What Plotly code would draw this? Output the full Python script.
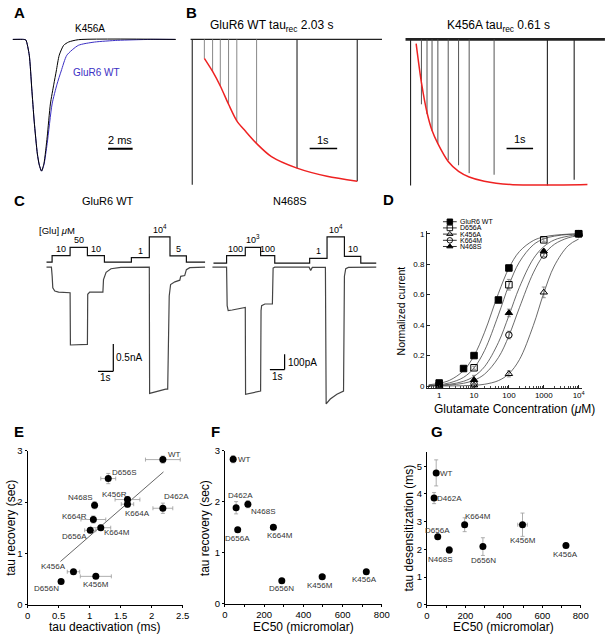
import math
import plotly.graph_objects as go

W, H = 614, 639
FONT = "Liberation Sans, Arial, Helvetica, sans-serif"

# ======================= DATA =======================
# --- Panel A: normalized deactivation traces (time in ms, normalized current)
a_rise_t = [0, 0.88, 1.06, 1.34, 1.54, 1.74, 2.0, 2.16, 2.34]
a_rise_i = [0, 0, -0.004, -0.12, -0.37, -0.62, -0.87, -0.955, -1.0]
a_k456a_decay_t = [2.54, 2.8, 3.06, 3.34, 3.54, 3.78, 4.14, 4.54, 5.34, 13.28]
a_k456a_decay_i = [-0.94, -0.74, -0.49, -0.34, -0.24, -0.12, -0.045, -0.02, -0.002, 0]
a_wt_decay_t = [2.54, 2.8, 3.2, 3.6, 3.94, 4.4, 5.34, 6.66, 8.54, 11.2, 13.2]
a_wt_decay_i = [-0.95, -0.79, -0.49, -0.34, -0.24, -0.12, -0.045, -0.02, -0.007, 0, 0]

# --- Panel B: recovery from desensitization (time s, normalized peak)
b_wt_record_t = [-0.06, 6.9]
b_wt_pulse_t = [0, 0.44, 0.74, 1.02, 1.32, 1.62, 2.34, 3.81, 6.0]
b_wt_pulse_amp = [-1.0, -0.13, -0.22, -0.32, -0.446, -0.56, -0.716, -0.885, -0.975]
b_wt_fit_t = [0.44, 0.74, 1.02, 1.32, 1.62, 1.93, 2.34, 2.88, 3.81, 4.9, 6.0]
b_wt_fit_amp = [-0.13, -0.22, -0.32, -0.446, -0.56, -0.63, -0.716, -0.806, -0.885, -0.941, -0.975]
b_k_record_t = [-0.19, 7.33]
b_k_pulse_t = [0, 0.41, 0.62, 0.81, 1.03, 1.42, 1.81, 2.21, 3.15, 5.16, 6.17]
b_k_pulse_amp = [-1.0, -0.444, -0.511, -0.625, -0.713, -0.827, -0.861, -0.915, -0.926, -1.0, -0.96]
b_k_fit_t = [0.21, 0.41, 0.62, 0.81, 1.03, 1.42, 1.81, 2.21, 2.78, 3.77, 5.16, 6.67]
b_k_fit_amp = [-0.029, -0.296, -0.50, -0.623, -0.713, -0.835, -0.903, -0.941, -0.97, -0.993, -0.997, -0.993]

# --- Panel C: concentration jumps
c_wt_stim_t = [0, 0.365, 1.54, 2.67, 3.78, 5.54, 6.71, 8.06, 9.13, 10.35]
c_wt_stim_conc = [0, 10, 50, 10, 0, 1, 10000, 5, 0]
c_wt_stim_level = [0, 1.0, 2.24, 1.0, 0, 0.7, 3.84, 0.96, 0]
c_wt_cur_t = [0, 0.32, 0.37, 0.41, 0.54, 0.79, 1.54, 1.56, 2.67, 2.69, 2.82, 3.68, 3.72,
              3.89, 4.21, 4.85, 6.71, 6.73, 7.78, 7.91, 8.01, 8.10, 8.38, 8.70, 8.76,
              9.02, 9.13, 9.35, 10.35]
c_wt_cur_na = [0, 0, -0.17, -0.38, -0.44, -0.46, -0.47, -1.43, -1.42, -0.50, -0.46, -0.46,
               -0.23, -0.096, -0.03, -0.005, 0, -2.32, -2.24, -2.24, -0.53, -0.32, -0.27,
               -0.24, -0.17, -0.155, -0.047, -0.01, 0]
c_n_stim_t = [0, 0.89, 2.16, 3.2, 4.16, 6.53, 7.71, 8.89, 10.0, 11.05]
c_n_stim_conc = [0, 100, 1000, 100, 0, 1, 10000, 10, 0]
c_n_stim_level = [0, 1.0, 2.08, 1.0, 0, 0.65, 3.47, 0.91, 0]
c_n_cur_t = [-0.07, 0.89, 0.93, 1.0, 1.27, 1.71, 2.16, 2.18, 2.6, 3.2, 3.23, 3.27, 3.49, 4.0,
             4.05, 4.16, 6.49, 6.6, 6.71, 7.6, 7.65, 7.93, 8.38, 8.83, 8.89, 8.98, 9.16, 11.05]
c_n_cur_pa = [0, 0, -250, -282, -278, -268, -261, -824, -817, -803, -282, -250, -239, -239,
              -6, 0, 0, -21, -2, -2, -887, -855, -824, -803, -59, -10, -2, 0]

# --- Panel D: concentration-response
d_wt_conc = [1, 5, 10, 50, 100, 10000]
d_wt_resp = [0.02, 0.115, 0.20, 0.565, 0.775, 1.0]
d_wt_err = [0, 0, 0.01, 0.01, 0.01, 0]
d_d656a_conc = [1, 10, 100, 1000, 10000]
d_d656a_resp = [0.005, 0.12, 0.665, 0.96, 1.0]
d_d656a_err = [0, 0.01, 0.035, 0.01, 0]
d_k456a_conc = [1, 10, 100, 1000, 10000]
d_k456a_resp = [0.0, 0.005, 0.08, 0.615, 1.0]
d_k456a_err = [0, 0, 0.02, 0.035, 0]
d_k664m_conc = [10, 100, 1000, 10000]
d_k664m_resp = [0.015, 0.335, 0.86, 1.0]
d_k664m_err = [0, 0.025, 0.01, 0]
d_n468s_conc = [1, 10, 100, 1000, 10000]
d_n468s_resp = [0.005, 0.04, 0.48, 0.885, 1.0]
d_n468s_err = [0, 0.03, 0.025, 0.01, 0]
d_fit_conc = [0.5, 1, 2, 5, 10, 20, 50, 100, 200, 500, 1000, 2000, 5000, 10000]
d_wt_fit = [0.008, 0.018, 0.038, 0.101, 0.199, 0.353, 0.608, 0.774, 0.883, 0.955, 0.979, 0.990, 0.997, 0.998]
d_d656a_fit = [0.004, 0.009, 0.021, 0.057, 0.119, 0.233, 0.467, 0.662, 0.814, 0.927, 0.966, 0.984, 0.995, 0.998]
d_n468s_fit = [0.0025, 0.0054, 0.0115, 0.031, 0.064, 0.127, 0.286, 0.462, 0.648, 0.835, 0.915, 0.959, 0.984, 0.993]
d_k664m_fit = [0.0015, 0.0031, 0.0066, 0.018, 0.038, 0.078, 0.187, 0.33, 0.514, 0.743, 0.861, 0.930, 0.973, 0.987]
d_k456a_fit = [0.0001, 0.0003, 0.0007, 0.0021, 0.0049, 0.0116, 0.0356, 0.081, 0.173, 0.397, 0.61, 0.788, 0.921, 0.965]
d_tickvals = [1, 10, 100, 1000, 10000]
d_ticktext = ["1", "10", "100", "1000", "10<sup>4</sup>"]

# --- Panel E
e_names = ["WT", "D656S", "N468S", "K456R", "K664A", "D462A", "K664R", "K664M", "D656A", "K456A", "K456M", "D656N"]
e_tau_deact = [2.18, 1.30, 1.08, 1.61, 1.61, 2.18, 1.06, 1.18, 1.01, 0.74, 1.10, 0.54]
e_tau_deact_err = [0.28, 0.12, 0.03, 0.20, 0.10, 0.16, 0.20, 0.16, 0.09, 0.10, 0.25, 0.04]
e_tau_rec = [2.83, 2.46, 1.94, 2.05, 1.96, 1.88, 1.66, 1.50, 1.45, 0.64, 0.55, 0.45]
e_tau_rec_err = [0.07, 0.10, 0.07, 0.06, 0.06, 0.10, 0.07, 0.05, 0.05, 0.04, 0.04, 0.03]
e_fit_x = [0.53, 2.19]
e_fit_y = [0.84, 2.59]

# --- Panel F
f_names = ["WT", "D462A", "N468S", "D656A", "K664M", "D656N", "K456M", "K456A"]
f_ec50 = [42, 57, 117, 65, 247, 290, 496, 721]
f_ec50_err = [0, 0, 12, 0, 12, 10, 15, 0]
f_tau_rec = [2.83, 1.88, 1.95, 1.45, 1.50, 0.45, 0.53, 0.63]
f_tau_rec_err = [0.07, 0.12, 0.07, 0.04, 0.04, 0.03, 0.04, 0.03]

# --- Panel G
g_names = ["WT", "D462A", "K664M", "K456M", "D656A", "N468S", "D656N", "K456A"]
g_ec50 = [48, 37, 196, 497, 56, 116, 291, 723]
g_ec50_err = [0, 0, 12, 25, 0, 12, 10, 0]
g_tau_des = [4.76, 3.85, 2.89, 2.89, 2.46, 1.98, 2.10, 2.14]
g_tau_des_err = [0.47, 0.20, 0.25, 0.42, 0.05, 0.12, 0.32, 0.05]

# ======================= LAYOUT HELPERS =======================
# label offsets (px) for scatter-point names
e_label_shift = [(12, 5), (16, 6), (-15, 8), (-13, 5), (10, -9), (14, 12), (-19, 3), (16, -5),
                 (-16, -6), (-20, 5), (0, -8), (-15, -7)]
f_label_shift = [(11, 0), (4, 12), (15, -7), (0, -8.5), (7, -8), (0, -8), (-2, -8.5), (-2, -7.5)]
g_label_shift = [(10, -1), (15, 0), (13, 8), (0, -16), (0, 6.5), (-9, -10), (1, -14), (0, -8.5)]


def xdom(p0, p1):
    return [p0 / W, p1 / W]


def ydom(top, bot):
    return [1 - bot / H, 1 - top / H]


def xr(p0, p1, origin, scale):
    return [(p0 - origin) / scale, (p1 - origin) / scale]


def yr(top, bot, origin, scale):
    return [(origin - bot) / scale, (origin - top) / scale]


def px(x):
    return x / W


def py(y):
    return 1 - y / H


hidden = dict(visible=False, showgrid=False, zeroline=False, fixedrange=True)

fig = go.Figure()
annotations = []
shapes = []


def ann(text, x, y, xref="paper", yref="paper", size=10, color="black", xanchor="center",
        yanchor="middle", xshift=0, yshift=0, textangle=0):
    annotations.append(dict(text=text, x=x, y=y, xref=xref, yref=yref, showarrow=False,
                            font=dict(size=size, color=color, family=FONT), xanchor=xanchor,
                            yanchor=yanchor, xshift=xshift, yshift=yshift, textangle=textangle))


def seg(x0, y0, x1, y1, xref, yref, width=1.5, color="black"):
    shapes.append(dict(type="line", x0=x0, y0=y0, x1=x1, y1=y1, xref=xref, yref=yref,
                       line=dict(color=color, width=width)))


# ======================= PANEL A =======================
fig.add_trace(go.Scatter(x=a_rise_t + a_wt_decay_t, y=a_rise_i + a_wt_decay_i, mode="lines",
                         line=dict(color="#3b2fc4", width=1, shape="spline", smoothing=0.6),
                         xaxis="x", yaxis="y"))
fig.add_trace(go.Scatter(x=a_rise_t + a_k456a_decay_t, y=a_rise_i + a_k456a_decay_i, mode="lines",
                         line=dict(color="black", width=1, shape="spline", smoothing=0.6),
                         xaxis="x", yaxis="y"))
seg(7.76, -0.83, 9.76, -0.83, "x", "y", width=2)
ann("2 ms", 8.76, -0.83, "x", "y", size=11, yanchor="bottom", yshift=1)
ann("K456A", px(89), py(23), size=10)
ann("GluR6 WT", px(95), py(68), size=10, color="#3b2fc4")


# ======================= PANEL B =======================
def pulses(ts, amps, idx):
    xs, ys = [], []
    for i in idx:
        xs += [ts[i], ts[i], None]
        ys += [0, amps[i], None]
    return xs, ys


for (xa, ya, rec, pt, pa, ft, fa, blk, gray_col, base_w) in [
    ("x2", "y2", b_wt_record_t, b_wt_pulse_t, b_wt_pulse_amp, b_wt_fit_t, b_wt_fit_amp, [0, 7, 8], "#888888", 1.2),
    ("x3", "y3", b_k_record_t, b_k_pulse_t, b_k_pulse_amp, b_k_fit_t, b_k_fit_amp, [0, 9, 10], "#555555", 2.6),
]:
    fig.add_trace(go.Scatter(x=rec, y=[0, 0], mode="lines", line=dict(color="#222", width=base_w),
                             xaxis=xa, yaxis=ya))
    gidx = [i for i in range(len(pt)) if i not in blk]
    gx, gy = pulses(pt, pa, gidx)
    fig.add_trace(go.Scatter(x=gx, y=gy, mode="lines", line=dict(color=gray_col, width=1),
                             xaxis=xa, yaxis=ya))
    bx, by = pulses(pt, pa, blk)
    fig.add_trace(go.Scatter(x=bx, y=by, mode="lines", line=dict(color="#222", width=1.1),
                             xaxis=xa, yaxis=ya))
    fig.add_trace(go.Scatter(x=ft, y=fa, mode="lines",
                             line=dict(color="#ee2222", width=1.5, shape="spline", smoothing=0.8),
                             xaxis=xa, yaxis=ya))

seg(4.27, -0.75, 5.27, -0.75, "x2", "y2", width=1.5)
ann("1s", 4.77, -0.75, "x2", "y2", size=11, yanchor="bottom", yshift=1)
seg(3.62, -0.746, 4.62, -0.746, "x3", "y3", width=1.5)
ann("1s", 4.12, -0.746, "x3", "y3", size=11, yanchor="bottom", yshift=1)
ann("GluR6 WT tau<sub>rec</sub> 2.03 s", px(273), py(20), size=12)
ann("K456A tau<sub>rec</sub> 0.61 s", px(505), py(20), size=12)


# ======================= PANEL C =======================
def conc_label(c):
    if c >= 1000:
        return "10<sup>%d</sup>" % round(math.log10(c))
    return str(c)


for (xa, ys_, yc, st, sc, sl, ct, cv) in [
    ("x4", "y4", "y5", c_wt_stim_t, c_wt_stim_conc, c_wt_stim_level, c_wt_cur_t, c_wt_cur_na),
    ("x5", "y6", "y7", c_n_stim_t, c_n_stim_conc, c_n_stim_level, c_n_cur_t, c_n_cur_pa),
]:
    fig.add_trace(go.Scatter(x=st, y=sl + [sl[-1]], mode="lines",
                             line=dict(color="#111", width=1.2, shape="hv"), xaxis=xa, yaxis=ys_))
    for i, c in enumerate(sc):
        if c > 0:
            ann(conc_label(c), (st[i] + st[i + 1]) / 2, sl[i], xa, ys_, size=9,
                yanchor="bottom", yshift=0)
    fig.add_trace(go.Scatter(x=ct, y=cv, mode="lines", line=dict(color="#444", width=1.2),
                             xaxis=xa, yaxis=yc))

ann("[Glu] <i>μ</i>M", px(55), py(228), size=9.5)
ann("GluR6 WT", px(107), py(198), size=11)
ann("N468S", px(292), py(198), size=11)
# scale bars
seg(4.36, -1.413, 4.36, -1.913, "x4", "y5", width=1.2)
seg(3.36, -1.913, 4.36, -1.913, "x4", "y5", width=1.2)
ann("0.5nA", 4.36, -1.66, "x4", "y5", size=10, xanchor="left", xshift=1)
ann("1s", 3.86, -1.913, "x4", "y5", size=10, yanchor="top", yshift=1)
seg(4.83, -564, 4.83, -664, "x5", "y7", width=1.2)
seg(3.83, -664, 4.83, -664, "x5", "y7", width=1.2)
ann("100pA", 4.83, -620, "x5", "y7", size=10, xanchor="left", xshift=1)
ann("1s", 4.33, -664, "x5", "y7", size=10, yanchor="top", yshift=1)

# ======================= PANEL D =======================
d_series = [
    ("GluR6 WT", d_wt_conc, d_wt_resp, d_wt_err, d_wt_fit, "square"),
    ("D656A", d_d656a_conc, d_d656a_resp, d_d656a_err, d_d656a_fit, "square-open"),
    ("K456A", d_k456a_conc, d_k456a_resp, d_k456a_err, d_k456a_fit, "triangle-up-open"),
    ("K664M", d_k664m_conc, d_k664m_resp, d_k664m_err, d_k664m_fit, "circle-open"),
    ("N468S", d_n468s_conc, d_n468s_resp, d_n468s_err, d_n468s_fit, "triangle-up"),
]
for name, cx, cy, ce, fit, sym in d_series:
    fig.add_trace(go.Scatter(x=d_fit_conc, y=fit, mode="lines",
                             line=dict(color="#444", width=0.8, shape="spline"),
                             xaxis="x6", yaxis="y8", cliponaxis=False))
for name, cx, cy, ce, fit, sym in d_series:
    fig.add_trace(go.Scatter(x=cx, y=cy, mode="markers",
                             marker=dict(symbol=sym, size=6.5, color="black",
                                         line=dict(color="black", width=1)),
                             error_y=dict(type="data", array=ce, color="#777", thickness=0.8, width=2),
                             xaxis="x6", yaxis="y8", cliponaxis=False))
# legend keys (drawn on a pixel overlay)
LEG_X0, LEG_X1, LEG_XM, LEG_Y0, LEG_DY = 448, 462, 455, 219.5, 6.3
for i, (name, cx, cy, ce, fit, sym) in enumerate(d_series):
    yy = LEG_Y0 + i * LEG_DY
    fig.add_trace(go.Scatter(x=[LEG_X0, LEG_X1], y=[yy, yy], mode="lines",
                             line=dict(color="#333", width=1), xaxis="x10", yaxis="y12"))
    fig.add_trace(go.Scatter(x=[LEG_XM], y=[yy], mode="markers",
                             marker=dict(symbol=sym, size=5.5, color="black",
                                         line=dict(color="black", width=0.9)),
                             xaxis="x10", yaxis="y12"))
    ann(name, px(LEG_X1 + 1), py(yy), size=7, xanchor="left")
ann("Normalized current", px(405), py(310), size=10.5, textangle=-90)
ann("Glutamate Concentration (<i>μ</i>M)", px(521), py(410), size=12)


# ======================= PANELS E F G =======================
def scatter_panel(xa, ya, xs, xe, ys, ye, names, shifts):
    fig.add_trace(go.Scatter(x=xs, y=ys, mode="markers",
                             marker=dict(symbol="circle", size=7, color="black"),
                             error_x=dict(type="data", array=xe, color="#999", thickness=0.8, width=2),
                             error_y=dict(type="data", array=ye, color="#999", thickness=0.8, width=2),
                             xaxis=xa, yaxis=ya, cliponaxis=False))
    for n, x, y, (dx, dy) in zip(names, xs, ys, shifts):
        ann(n, x, y, xa, ya, size=8, color="#333", xshift=dx, yshift=dy)


fig.add_trace(go.Scatter(x=e_fit_x, y=e_fit_y, mode="lines", line=dict(color="#555", width=0.9),
                         xaxis="x7", yaxis="y9"))
scatter_panel("x7", "y9", e_tau_deact, e_tau_deact_err, e_tau_rec, e_tau_rec_err, e_names, e_label_shift)
scatter_panel("x8", "y10", f_ec50, f_ec50_err, f_tau_rec, f_tau_rec_err, f_names, f_label_shift)
scatter_panel("x9", "y11", g_ec50, g_ec50_err, g_tau_des, g_tau_des_err, g_names, g_label_shift)

ann("tau recovery (sec)", px(8), py(531), size=12, textangle=-90)
ann("tau deactivation (ms)", px(103), py(632), size=12)
ann("tau recovery (sec)", px(206), py(531), size=12, textangle=-90)
ann("EC50 (micromolar)", px(306), py(632), size=12)
ann("tau desensitization (ms)", px(413), py(531), size=12, textangle=-90)
ann("EC50 (micromolar)", px(510), py(632), size=12)

# panel letters
for letter, lx, ly in [("A", 17, 7), ("B", 192, 7), ("C", 17, 198), ("D", 393, 197),
                       ("E", 16, 433), ("F", 216, 433), ("G", 442, 433)]:
    ann("<b>%s</b>" % letter, px(lx), py(ly), size=15)

# ======================= AXES =======================
sc_axis = dict(showline=True, linecolor="black", linewidth=1, ticks="outside", ticklen=2,
               tickcolor="black", tickfont=dict(size=9.5, family=FONT, color="black"),
               showgrid=False, zeroline=False, mirror=False, fixedrange=True)

fig.update_layout(
    width=W, height=H, margin=dict(l=0, r=0, t=0, b=0), showlegend=False,
    paper_bgcolor="white", plot_bgcolor="rgba(0,0,0,0)",
    font=dict(family=FONT, color="black"),
    # A
    xaxis=dict(domain=xdom(5, 180), range=xr(5, 180, 10, 12.5), anchor="y", **hidden),
    yaxis=dict(domain=ydom(28, 174), range=yr(28, 174, 34, 134), anchor="x", **hidden),
    # B
    xaxis2=dict(domain=xdom(186, 392), range=xr(186, 392, 192.7, 28), anchor="y2", **hidden),
    yaxis2=dict(domain=ydom(28, 190), range=yr(28, 190, 34, 148), anchor="x2", **hidden),
    xaxis3=dict(domain=xdom(405, 614), range=xr(405, 614, 415, 27), anchor="y3", **hidden),
    yaxis3=dict(domain=ydom(28, 190), range=yr(28, 190, 34, 148.7), anchor="x3", **hidden),
    # C
    xaxis4=dict(domain=xdom(38, 212), range=xr(38, 212, 44.3, 15.6), anchor="y5", **hidden),
    yaxis4=dict(domain=ydom(222, 266), range=yr(222, 266, 260.7, 6.7), anchor="x4", **hidden),
    yaxis5=dict(domain=ydom(262, 402), range=yr(262, 402, 265.7, 55.4), anchor="x4", **hidden),
    xaxis5=dict(domain=xdom(208, 386), range=xr(208, 386, 214.3, 15), anchor="y7", **hidden),
    yaxis6=dict(domain=ydom(222, 266), range=yr(222, 266, 261.7, 7.7), anchor="x5", **hidden),
    yaxis7=dict(domain=ydom(262, 412), range=yr(262, 412, 265.7, 0.157), anchor="x5", **hidden),
    # D
    xaxis6=dict(domain=xdom(431.7, 589.7), type="log", range=[-0.35, 4.1], anchor="y8",
                tickvals=d_tickvals, ticktext=d_ticktext, showline=True, linecolor="#222",
                linewidth=1, ticks="inside", ticklen=3, tickcolor="#222",
                tickfont=dict(size=8, family=FONT, color="black"), showgrid=False, zeroline=False,
                minor=dict(ticks="inside", ticklen=1.5, tickcolor="#444", dtick="D1", showgrid=False),
                fixedrange=True),
    yaxis8=dict(domain=ydom(228.6, 388.25), range=[-0.01, 1.02], anchor="x6",
                tickvals=[0, 0.2, 0.4, 0.6, 0.8, 1.0], ticktext=["0", "0.2", "0.4", "0.6", "0.8", "1"],
                showline=True, linecolor="#222", linewidth=1, ticks="inside", ticklen=3,
                tickcolor="#222", tickfont=dict(size=8, family=FONT, color="black"),
                showgrid=False, zeroline=False, fixedrange=True),
    # E
    xaxis7=dict(domain=xdom(25, 183), range=[0, 2.5], anchor="y9",
                tickvals=[0, 0.5, 1, 1.5, 2, 2.5], ticktext=["0", "0.5", "1", "1.5", "2", "2.5"], **sc_axis),
    yaxis9=dict(domain=ydom(452.7, 609), range=[0, 3], anchor="x7", tickvals=[0, 1, 2, 3], **sc_axis),
    # F
    xaxis8=dict(domain=xdom(226, 385.7), range=[0, 800], anchor="y10", tickvals=[0, 200, 400, 600, 800],
                minor=dict(ticks="outside", ticklen=2, dtick=100, tickcolor="black"), **sc_axis),
    yaxis10=dict(domain=ydom(452.3, 608.3), range=[0, 3], anchor="x8", tickvals=[0, 1, 2, 3], **sc_axis),
    # G
    xaxis9=dict(domain=xdom(431.7, 588.3), range=[0, 800], anchor="y11", tickvals=[0, 200, 400, 600, 800],
                minor=dict(ticks="outside", ticklen=2, dtick=100, tickcolor="black"), **sc_axis),
    yaxis11=dict(domain=ydom(454.2, 609.3), range=[0, 5.5], anchor="x9", tickvals=[0, 1, 2, 3, 4, 5], **sc_axis),
    # pixel overlay for the legend keys of D
    xaxis10=dict(domain=[0, 1], range=[0, W], anchor="y12", **hidden),
    yaxis12=dict(domain=[0, 1], range=[H, 0], anchor="x10", **hidden),
    annotations=annotations,
    shapes=shapes,
)

fig.write_html("out.html", config={"displayModeBar": False, "staticPlot": True},
               post_script="document.body.style.margin='0';document.body.style.overflow='hidden';")
